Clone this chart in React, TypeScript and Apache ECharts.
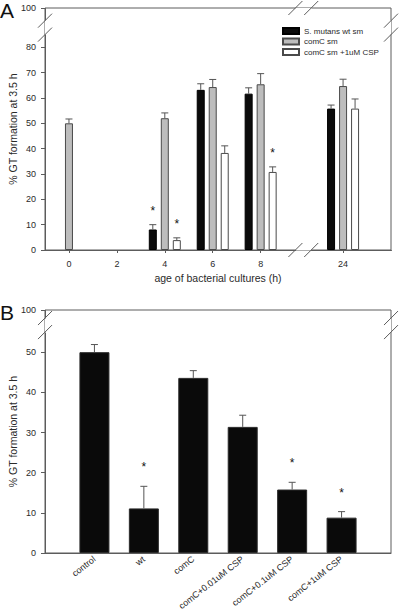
import React, { useEffect, useRef } from 'react';
import * as echarts from 'echarts';

// ---------- Panel A data ----------
const hourTicks = [0, 2, 4, 6, 8, 24];
const pctTicksA = [0, 10, 20, 30, 40, 50, 60, 70, 80, 100];

const wtName = 'S. mutans wt sm';
const wtHours = [4, 6, 8, 24];
const wtMean = [8.1, 63.2, 61.7, 55.8];
const wtErr = [1.9, 2.4, 2.3, 1.4];
const wtStar = [1, 0, 0, 0];

const comCName = 'comC sm';
const comCHours = [0, 4, 6, 8, 24];
const comCMean = [50.0, 52.0, 64.3, 65.4, 64.7];
const comCErr = [1.7, 2.1, 3.0, 4.2, 2.7];
const comCStar = [0, 0, 0, 0, 0];

const cspName = 'comC sm +1uM CSP';
const cspHours = [4, 6, 8, 24];
const cspMean = [3.9, 38.3, 30.8, 55.8];
const cspErr = [0.9, 2.8, 2.0, 3.8];
const cspStar = [1, 0, 1, 0];

// ---------- Panel B data ----------
const treatments = ['control', 'wt', 'comC', 'comC+0.01uM CSP', 'comC+0.1uM CSP', 'comC+1uM CSP'];
const gtMean = [50.0, 11.1, 43.6, 31.4, 15.8, 8.8];
const gtErr = [1.9, 5.5, 1.8, 2.9, 1.8, 1.5];
const gtStar = [0, 1, 0, 0, 1, 1];
const pctTicksB = [0, 10, 20, 30, 40, 50, 100];

const FONT = '"Liberation Sans", Arial, Helvetica, sans-serif';
const AXIS = '#5c5c5c';
const TXT = '#2a2a2a';

const breakAreaStyle = {
  show: true,
  itemStyle: { color: '#ffffff', opacity: 1, borderWidth: 0, borderColor: 'rgba(0,0,0,0)' },
  zigzagAmplitude: 0,
  zigzagZ: 3,
  expandOnClick: false,
};

function errSeries(id: string, xAxisIndex: number, yAxisIndex: number, data: number[][], offset: number, starGap: number) {
  return {
    type: 'custom',
    id,
    name: id,
    xAxisIndex,
    yAxisIndex,
    z: 4,
    silent: true,
    itemStyle: { color: '#111111' },
    data,
    renderItem: (_params: any, api: any) => {
      const x = api.value(0);
      const m = api.value(1);
      const e = api.value(2);
      const s = api.value(3);
      const p0 = api.coord([x, m]);
      const p1 = api.coord([x, m + e]);
      const cx = p0[0] + offset;
      const children: any[] = [
        { type: 'line', shape: { x1: cx, y1: p0[1], x2: cx, y2: p1[1] }, style: { stroke: '#555', lineWidth: 1 } },
        { type: 'line', shape: { x1: cx - 3.5, y1: p1[1], x2: cx + 3.5, y2: p1[1] }, style: { stroke: '#555', lineWidth: 1 } },
      ];
      if (s) {
        children.push({
          type: 'text',
          x: cx,
          y: p1[1] - starGap,
          style: { text: '*', fontSize: 12, fill: '#111111', align: 'center', verticalAlign: 'middle', fontFamily: FONT },
        });
      }
      return { type: 'group', children };
    },
  };
}

export default function App() {
  const ref = useRef<HTMLDivElement>(null);

  useEffect(() => {
    if (!ref.current) return;
    const chart = echarts.init(ref.current, null, { renderer: 'svg' });

    const barA = (name: string, hours: number[], vals: number[], fill: string, border: string) => ({
      type: 'bar',
      name,
      xAxisIndex: 0,
      yAxisIndex: 0,
      barWidth: 8,
      barGap: '50%',
      z: 2,
      itemStyle: { color: fill, borderColor: border, borderWidth: 1 },
      data: hours.map((h, i) => [h, vals[i]]),
    });

    const option: any = {
      animation: false,
      textStyle: { fontFamily: FONT },
      grid: [
        {
          left: 45, right: 9, top: 8, height: 242, containLabel: false, outerBoundsMode: 'none',
          show: true, borderColor: AXIS, borderWidth: 1, backgroundColor: 'transparent',
        },
        {
          left: 45, right: 9, top: 310, height: 243, containLabel: false, outerBoundsMode: 'none',
          show: true, borderColor: AXIS, borderWidth: 1, backgroundColor: 'transparent',
        },
      ],
      legend: {
        data: [wtName, comCName, cspName],
        orient: 'vertical',
        left: 277,
        top: 21,
        z: 10,
        itemWidth: 16,
        itemHeight: 6,
        itemGap: 0.5,
        icon: 'rect',
        textStyle: { fontSize: 8, color: TXT, lineHeight: 10, fontFamily: FONT },
        selectedMode: false,
      },
      xAxis: [
        {
          type: 'value',
          gridIndex: 0,
          min: -1,
          max: 26,
          breaks: [{ start: 9.45, end: 22.67, gap: 0.66 }],
          breakArea: breakAreaStyle,
          name: 'age of bacterial cultures (h)',
          nameLocation: 'middle',
          nameGap: 22,
          nameMoveOverlap: false,
          nameTextStyle: { fontSize: 10.5, color: TXT, fontFamily: FONT },
          axisLine: { onZero: false, lineStyle: { color: AXIS, width: 1 } },
          axisTick: { show: true, length: 3, lineStyle: { color: AXIS }, customValues: hourTicks },
          axisLabel: {
            customValues: hourTicks,
            fontSize: 9,
            color: TXT,
            margin: 9,
            formatter: (v: number) => (hourTicks.includes(v) ? String(v) : ''),
          },
          splitLine: { show: false },
        },
        {
          type: 'category',
          gridIndex: 1,
          data: treatments,
          boundaryGap: false,
          min: -1,
          max: 6,
          axisLine: { onZero: false, lineStyle: { color: AXIS, width: 1 } },
          axisTick: { show: false },
          axisLabel: {
            rotate: 38,
            fontSize: 9,
            color: TXT,
            margin: 5,
            interval: 0,
            formatter: (v: any) => (treatments.includes(v) ? v : ''),
          },
          splitLine: { show: false },
        },
      ],
      yAxis: [
        {
          type: 'value',
          gridIndex: 0,
          min: 0,
          max: 100,
          breaks: [{ start: 85, end: 95, gap: 5.5 }],
          breakArea: breakAreaStyle,
          name: '% GT formation at 3.5 h',
          nameLocation: 'middle',
          nameGap: 27,
          nameMoveOverlap: false,
          nameTextStyle: { fontSize: 10.5, color: TXT, fontFamily: FONT },
          axisLine: { show: true, onZero: false, lineStyle: { color: AXIS, width: 1 } },
          axisTick: { show: true, length: 4, lineStyle: { color: AXIS }, customValues: pctTicksA },
          axisLabel: {
            customValues: pctTicksA,
            fontSize: 9,
            color: TXT,
            margin: 9,
            formatter: (v: number) => (pctTicksA.includes(v) ? String(v) : ''),
          },
          splitLine: { show: false },
        },
        {
          type: 'value',
          gridIndex: 1,
          min: 0,
          max: 100,
          breaks: [{ start: 55, end: 98, gap: 3.5 }],
          breakArea: breakAreaStyle,
          name: '% GT formation at 3.5 h',
          nameLocation: 'middle',
          nameGap: 27,
          nameMoveOverlap: false,
          nameTextStyle: { fontSize: 10.5, color: TXT, fontFamily: FONT },
          axisLine: { show: true, onZero: false, lineStyle: { color: AXIS, width: 1 } },
          axisTick: { show: true, length: 4, lineStyle: { color: AXIS }, customValues: pctTicksB },
          axisLabel: {
            customValues: pctTicksB,
            fontSize: 9,
            color: TXT,
            margin: 9,
            formatter: (v: number) => (pctTicksB.includes(v) ? String(v) : ''),
          },
          splitLine: { show: false },
        },
      ],
      series: [
        barA(wtName, wtHours, wtMean, '#0b0b0b', '#000000'),
        barA(comCName, comCHours, comCMean, '#bdbdbd', '#4a4a4a'),
        barA(cspName, cspHours, cspMean, '#ffffff', '#4a4a4a'),
        errSeries('errWt', 0, 0, wtHours.map((h, i) => [h, wtMean[i], wtErr[i], wtStar[i]]), -12, 14),
        errSeries('errComC', 0, 0, comCHours.map((h, i) => [h, comCMean[i], comCErr[i], comCStar[i]]), 0, 14),
        errSeries('errCsp', 0, 0, cspHours.map((h, i) => [h, cspMean[i], cspErr[i], cspStar[i]]), 12, 14),
        {
          type: 'bar',
          name: 'gtB',
          xAxisIndex: 1,
          yAxisIndex: 1,
          barWidth: 30,
          z: 2,
          itemStyle: { color: '#0a0a0a', borderColor: '#2a2a2a', borderWidth: 1 },
          data: gtMean,
        },
        errSeries('errB', 1, 1, gtMean.map((m, i) => [i, m, gtErr[i], gtStar[i]]), 0, 19),
      ],
      graphic: [
        { type: 'text', left: 0, top: 0, style: { text: 'A', fontSize: 21, fill: '#111', fontFamily: FONT } },
        { type: 'text', left: 0, top: 302, style: { text: 'B', fontSize: 21, fill: '#111', fontFamily: FONT } },
      ],
    };

    chart.setOption(option);

    // break marks ("//") drawn at the break boundaries
    const slash = (cx: number, cy: number) => ({
      type: 'line',
      z: 20,
      silent: true,
      shape: { x1: cx - 7, y1: cy + 7, x2: cx + 7, y2: cy - 7 },
      style: { stroke: AXIS, lineWidth: 1 },
    });
    const px = (finder: any, v: number) => chart.convertToPixel(finder, v) as unknown as number;
    const leftX = px({ xAxisIndex: 0 }, -1);
    const rightX = px({ xAxisIndex: 0 }, 26);
    const marks: any[] = [];
    [85, 95].forEach((v) => {
      const y = px({ yAxisIndex: 0 }, v);
      marks.push(slash(leftX, y), slash(rightX, y));
    });
    const yBottomA = px({ yAxisIndex: 0 }, 0);
    const yTopA = px({ yAxisIndex: 0 }, 100);
    [9.45, 22.67].forEach((v) => {
      const x = px({ xAxisIndex: 0 }, v);
      marks.push(slash(x, yBottomA), slash(x, yTopA));
    });
    [55, 98].forEach((v) => {
      const y = px({ yAxisIndex: 1 }, v);
      marks.push(slash(45, y), slash(391, y));
    });
    chart.setOption({ graphic: [...option.graphic, ...marks] }, { replaceMerge: ['graphic'] } as any);

    return () => chart.dispose();
  }, []);

  return <div ref={ref} style={{ position: 'absolute', left: 0, top: 0, width: 400, height: 614 }} />;
}
